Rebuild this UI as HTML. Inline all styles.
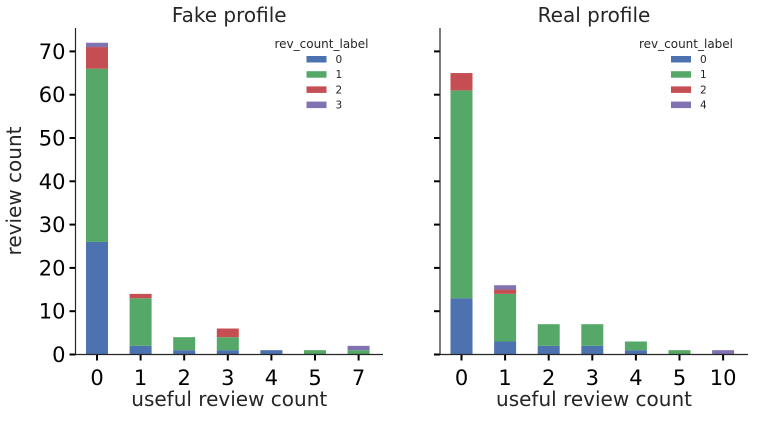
<!DOCTYPE html>
<html><head><meta charset="utf-8"><style>
body{margin:0;background:#fff;width:757px;height:416px;overflow:hidden}
text{font-family:"DejaVu Sans","Liberation Sans",sans-serif}
</style></head><body>
<svg id="c" width="757" height="416" xmlns="http://www.w3.org/2000/svg"></svg>
<script>
const leftCats=["0","1","2","3","4","5","7"];
const leftLabels=["0","1","2","3"];
const leftS0=[26,2,1,1,1,0,0];
const leftS1=[40,11,3,3,0,1,1];
const leftS2=[5,1,0,2,0,0,0];
const leftS3=[1,0,0,0,0,0,1];
const rightCats=["0","1","2","3","4","5","10"];
const rightLabels=["0","1","2","4"];
const rightS0=[13,3,2,2,1,0,0];
const rightS1=[48,11,5,5,2,1,0];
const rightS2=[4,1,0,0,0,0,0];
const rightS3=[0,1,0,0,0,0,1];
const yTicks=[0,10,20,30,40,50,60,70];
const colors=["#4c72b0","#55a868","#c44e52","#8172b2"];
const svg=document.getElementById('c');
const NS="http://www.w3.org/2000/svg";
function mk(t,a,p){const e=document.createElementNS(NS,t);for(const k in a)e.setAttribute(k,a[k]);(p||svg).appendChild(e);return e;}
const y0=354.5,pu=4.33;
function yS(v){return y0-v*pu;}
function panel(x0,x1,title,cats,series,labels,showY,nm){
  const g=mk('g',{});
  
  
  const step=43.6,first=x0+21.5;
  function xS(i){return first+i*step;}
  let t=mk('text',{x:(x0+x1)/2,y:22,'text-anchor':'middle','font-size':20,fill:'#262626'},g);t.textContent=title;
  
  cats.forEach((c,i)=>{
    let acc=0;
    series.forEach((s,k)=>{
      if(s[i]>0){const r=mk('rect',{x:xS(i)-11,y:yS(acc+s[i]),width:22,height:s[i]*pu,fill:colors[k]},g);
        }
      acc+=s[i];
    });
    mk('line',{x1:xS(i),x2:xS(i),y1:y0,y2:y0+6,stroke:'#000','stroke-width':2},g);
    const l=mk('text',{x:xS(i),y:385,'text-anchor':'middle','font-size':21,fill:'#000'},g);l.textContent=c;
    
  });
  yTicks.forEach(v=>{
    mk('line',{x1:x0-6,x2:x0,y1:yS(v),y2:yS(v),stroke:'#000','stroke-width':2},g);
    if(showY){const l=mk('text',{x:x0-10,y:yS(v)+7.5,'text-anchor':'end','font-size':21,fill:'#000'},g);l.textContent=v;
      }
  });
  mk('line',{x1:x0,x2:x0,y1:28,y2:y0,stroke:'#262626','stroke-width':1.2},g);
  mk('line',{x1:x0,x2:x1,y1:y0,y2:y0,stroke:'#262626','stroke-width':1.2},g);
  const xl=mk('text',{x:(x0+x1)/2,y:406,'text-anchor':'middle','font-size':20,fill:'#262626'},g);xl.textContent='useful review count';
  
  const lx=x0+231;
  const lg=mk('g',{},g);
  const lt=mk('text',{x:lx+15,y:48,'text-anchor':'middle','font-size':12,fill:'#262626'},lg);lt.textContent='rev_count_label';
  labels.forEach((lb,k)=>{
    const yy=56+k*15.2;
    mk('rect',{x:lx,y:yy,width:20,height:6.5,fill:colors[k]},lg);
    const tt=mk('text',{x:lx+29,y:yy+7,'font-size':10.5,fill:'#262626'},lg);tt.textContent=lb;
    
  });
}
panel(75.5,383,'Fake profile',leftCats,[leftS0,leftS1,leftS2,leftS3],leftLabels,true,'fake');
panel(440,748,'Real profile',rightCats,[rightS0,rightS1,rightS2,rightS3],rightLabels,false,'real');
const yt=mk('text',{x:0,y:0,'text-anchor':'middle','font-size':20,fill:'#262626',transform:'translate(21,191) rotate(-90)'});
yt.textContent='review count';


</script>
</body></html>
